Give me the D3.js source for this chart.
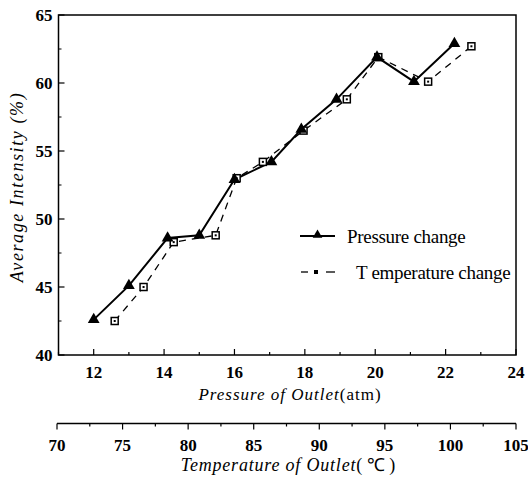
<!DOCTYPE html>
<html>
<head>
<meta charset="utf-8">
<script src="https://cdn.jsdelivr.net/npm/d3@7"></script>
</head>
<body style="margin:0">
<script>
// Pressure change series (triangles, x on pressure axis)
const pressure = [12.0, 13.0, 14.1, 15.0, 16.0, 17.05, 17.9, 18.9, 20.05, 21.1, 22.25];
const pressureIntensity = [42.6, 45.1, 48.6, 48.8, 52.9, 54.2, 56.6, 58.8, 61.9, 60.1, 62.9];
// Temperature change series (squares, x on temperature axis)
const temperature = [74.4, 76.6, 78.9, 82.1, 83.7, 85.7, 88.8, 92.1, 94.5, 98.3, 101.6];
const tempIntensity = [42.5, 45.0, 48.3, 48.8, 53.0, 54.2, 56.5, 58.8, 61.9, 60.1, 62.7];

const yTicks = [40, 45, 50, 55, 60, 65];
const pressureTicks = [12, 14, 16, 18, 20, 22, 24];
const tempTicks = [70, 75, 80, 85, 90, 95, 100, 105];

const plot = { left: 58.5, right: 516, top: 15, bottom: 355 };
const tempAxisY = 423.5;
const FONT = "Liberation Serif";

const svg = d3.select("body")
    .append("svg")
    .attr("width", 528)
    .attr("height", 479);

// helper so every text gets the serif face directly
function label(sel, size, weight, style) {
    return sel
        .attr("font-family", FONT)
        .attr("font-size", size)
        .attr("font-weight", weight || "normal")
        .attr("font-style", style || "normal");
}

const xScale = d3.scaleLinear().domain([11, 24]).range([plot.left, plot.right]);
const tScale = d3.scaleLinear().domain([70, 105]).range([57, plot.right]);
const yScale = d3.scaleLinear().domain([40, 65]).range([plot.bottom, plot.top]);

// Frame
svg.append("rect")
    .attr("x", plot.left)
    .attr("y", plot.top)
    .attr("width", plot.right - plot.left)
    .attr("height", plot.bottom - plot.top)
    .attr("fill", "none")
    .attr("stroke", "#000")
    .attr("stroke-width", 1.5);

// Left axis: inward ticks, minors at 2.5
const yAxis = svg.append("g");
yAxis.selectAll("line.major")
    .data(yTicks)
    .join("line")
    .attr("x1", plot.left).attr("x2", plot.left + 6)
    .attr("y1", d => yScale(d)).attr("y2", d => yScale(d))
    .attr("stroke", "#000").attr("stroke-width", 1.2);
yAxis.selectAll("line.minor")
    .data(yTicks.slice(0, -1).map(d => d + 2.5))
    .join("line")
    .attr("x1", plot.left).attr("x2", plot.left + 3)
    .attr("y1", d => yScale(d)).attr("y2", d => yScale(d))
    .attr("stroke", "#000").attr("stroke-width", 1);
yAxis.selectAll("text")
    .data(yTicks)
    .join("text")
    .call(label, 17, "bold")
    .attr("x", plot.left - 6)
    .attr("y", d => yScale(d))
    .attr("dy", "0.35em")
    .attr("text-anchor", "end")
    .text(d => d);

// Bottom pressure axis: inward ticks, minors at odd values
const xAxis = svg.append("g");
xAxis.selectAll("line")
    .data(d3.range(11, 24.01, 1))
    .join("line")
    .attr("x1", d => xScale(d)).attr("x2", d => xScale(d))
    .attr("y1", plot.bottom)
    .attr("y2", d => plot.bottom - (d % 2 === 0 ? 6 : 3))
    .attr("stroke", "#000").attr("stroke-width", 1.2);
xAxis.selectAll("text")
    .data(pressureTicks)
    .join("text")
    .call(label, 17, "bold")
    .attr("x", d => xScale(d))
    .attr("y", 378)
    .attr("text-anchor", "middle")
    .text(d => d);

const xTitle = svg.append("text")
    .call(label, 17)
    .attr("x", 290)
    .attr("y", 400)
    .attr("text-anchor", "middle")
    .attr("letter-spacing", 1);
xTitle.append("tspan").attr("font-style", "italic").text("Pressure  of  Outlet");
xTitle.append("tspan").text("(atm)");

// Secondary temperature axis below
const tAxis = svg.append("g");
tAxis.append("line")
    .attr("x1", tScale(70)).attr("x2", tScale(105))
    .attr("y1", tempAxisY).attr("y2", tempAxisY)
    .attr("stroke", "#000").attr("stroke-width", 1.5);
tAxis.selectAll("line.tk")
    .data(d3.range(70, 105.01, 2.5))
    .join("line")
    .attr("x1", d => tScale(d)).attr("x2", d => tScale(d))
    .attr("y1", tempAxisY)
    .attr("y2", d => tempAxisY + (d % 5 === 0 ? 6 : 3))
    .attr("stroke", "#000").attr("stroke-width", 1.2);
tAxis.selectAll("text")
    .data(tempTicks)
    .join("text")
    .call(label, 17, "bold")
    .attr("x", d => tScale(d))
    .attr("y", 451)
    .attr("text-anchor", "middle")
    .text(d => d);

const tTitle = svg.append("text")
    .call(label, 18)
    .attr("x", 288)
    .attr("y", 471)
    .attr("text-anchor", "middle");
tTitle.append("tspan").attr("font-style", "italic").attr("letter-spacing", 0.8).text("Temperature of Outlet");
tTitle.append("tspan").text("( \u2103 )");

// Y title
svg.append("text")
    .call(label, 18, "normal", "italic")
    .attr("transform", "translate(23,187) rotate(-90)")
    .attr("text-anchor", "middle")
    .attr("letter-spacing", 1.6)
    .text("Average Intensity (%)");

// Temperature series: dashed line + open squares
const tempData = temperature.map((t, i) => ({ x: tScale(t), y: yScale(tempIntensity[i]) }));
const pressData = pressure.map((p, i) => ({ x: xScale(p), y: yScale(pressureIntensity[i]) }));

const line = d3.line().x(d => d.x).y(d => d.y);

svg.append("path")
    .attr("d", line(tempData))
    .attr("fill", "none")
    .attr("stroke", "#000")
    .attr("stroke-width", 1.3)
    .attr("stroke-dasharray", "7,6");

svg.append("path")
    .attr("d", line(pressData))
    .attr("fill", "none")
    .attr("stroke", "#000")
    .attr("stroke-width", 2);

function square(g, x, y) {
    g.append("rect")
        .attr("x", x - 3.5).attr("y", y - 3.5)
        .attr("width", 7).attr("height", 7)
        .attr("fill", "#fff")
        .attr("stroke", "#000")
        .attr("stroke-width", 1.5);
    g.append("rect")
        .attr("x", x - 1).attr("y", y - 1)
        .attr("width", 2).attr("height", 2)
        .attr("fill", "#000");
}

const sq = svg.append("g");
tempData.forEach(d => square(sq, d.x, d.y));

const tri = d3.symbol().type(d3.symbolTriangle).size(60);
svg.append("g")
    .selectAll("path")
    .data(pressData)
    .join("path")
    .attr("transform", d => `translate(${d.x},${d.y})`)
    .attr("d", tri)
    .attr("fill", "#000");

// Legend
const legend = svg.append("g");
legend.append("line")
    .attr("x1", 300).attr("x2", 335)
    .attr("y1", 236).attr("y2", 236)
    .attr("stroke", "#000").attr("stroke-width", 2);
legend.append("path")
    .attr("transform", "translate(317.5,235)")
    .attr("d", d3.symbol().type(d3.symbolTriangle).size(40))
    .attr("fill", "#000");
legend.append("text")
    .call(label, 19)
    .attr("x", 347).attr("y", 243)
    .attr("letter-spacing", -0.3)
    .text("Pressure change");

legend.append("line")
    .attr("x1", 301).attr("x2", 308)
    .attr("y1", 272).attr("y2", 272)
    .attr("stroke", "#000").attr("stroke-width", 1.3);
legend.append("line")
    .attr("x1", 326).attr("x2", 335)
    .attr("y1", 272).attr("y2", 272)
    .attr("stroke", "#000").attr("stroke-width", 1.3);
legend.append("rect")
    .attr("x", 314).attr("y", 270)
    .attr("width", 4).attr("height", 4)
    .attr("fill", "#000");
legend.append("text")
    .call(label, 19)
    .attr("x", 356).attr("y", 279)
    .attr("letter-spacing", -0.3)
    .text("T emperature change");
</script>
</body>
</html>
